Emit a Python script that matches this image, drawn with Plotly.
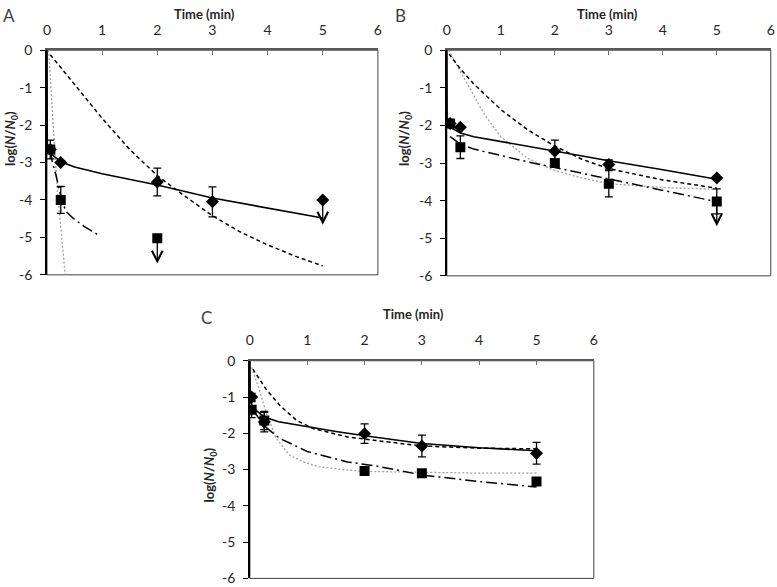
import plotly.graph_objects as go

W, H = 777, 587

# ---------------- data ----------------
x_ticks = [0, 1, 2, 3, 4, 5, 6]
x_tick_labels = ["0", "1", "2", "3", "4", "5", "6"]
y_ticks = [0, -1, -2, -3, -4, -5, -6]
y_tick_labels = ["0", "-1", "-2", "-3", "-4", "-5", "-6"]

# Panel A
A_dia_t = [0.06, 0.25, 2, 3, 5]
A_dia_y = [-2.65, -3.0, -3.52, -4.05, -4.0]
A_dia_e = [0.25, None, 0.37, 0.4, None]
A_sq_t = [0.06, 0.25, 2]
A_sq_y = [-2.65, -4.0, -5.02]
A_sq_e = [None, 0.36, None]
A_arrow_t = [5, 2]
A_arrow_from = [-4.0, -5.02]
A_arrow_to = [-4.66, -5.7]

A_solid_t = [0, 0.005, 0.06, 0.1, 0.25, 0.5, 1, 1.5, 2, 3, 4, 5]
A_solid_y = [0, -2.5, -2.68, -2.8, -2.98, -3.12, -3.3, -3.45, -3.6, -3.95, -4.22, -4.48]
A_dash_t = [0.06, 0.5, 1.0, 1.5, 2.0, 2.5, 3.0, 3.5, 4.0, 4.5, 5.0]
A_dash_y = [-0.12, -0.92, -1.82, -2.65, -3.35, -3.9, -4.42, -4.85, -5.2, -5.5, -5.76]
A_dot_t = [0.03, 0.06, 0.1, 0.15, 0.2, 0.25, 0.3, 0.33]
A_dot_y = [0, -0.8, -1.7, -2.9, -3.95, -4.75, -5.5, -6.0]
A_dd_t = [0.06, 0.1, 0.16, 0.25, 0.34, 0.5, 0.68, 0.85, 0.97]
A_dd_y = [-2.7, -3.0, -3.32, -3.9, -4.3, -4.52, -4.71, -4.86, -4.97]

# Panel B
B_dia_t = [0.06, 0.25, 2, 3, 5]
B_dia_y = [-1.95, -2.05, -2.69, -3.04, -3.4]
B_dia_e = [0.08, None, 0.3, 0.12, None]
B_sq_t = [0.06, 0.25, 2, 3, 5]
B_sq_y = [-1.95, -2.58, -3.0, -3.55, -4.02]
B_sq_e = [None, 0.3, 0.1, 0.35, 0.33]
B_arrow_t = [5]
B_arrow_from = [-4.02]
B_arrow_to = [-4.68]

B_solid_t = [0, 0.005, 0.06, 0.25, 0.5, 1, 1.5, 2, 3, 4, 5]
B_solid_y = [0, -1.9, -2.05, -2.2, -2.3, -2.43, -2.56, -2.68, -2.94, -3.18, -3.43]
B_dash_t = [0.04, 0.25, 0.5, 1, 1.5, 2, 2.5, 3, 4, 5]
B_dash_y = [-0.1, -0.5, -0.9, -1.58, -2.12, -2.55, -2.9, -3.15, -3.45, -3.67]
B_dot_t = [0.03, 0.2, 0.4, 0.7, 1.0, 1.5, 2.0, 2.5, 3.0, 4.0, 5.0]
B_dot_y = [0, -0.45, -0.95, -1.72, -2.3, -2.88, -3.2, -3.4, -3.55, -3.65, -3.7]
B_dd_t = [0.06, 0.25, 0.5, 1, 1.5, 2, 3, 4, 5]
B_dd_y = [-2.3, -2.5, -2.63, -2.8, -2.97, -3.12, -3.42, -3.72, -4.03]

# Panel C
C_dia_t = [0.03, 0.25, 2, 3, 5]
C_dia_y = [-1.0, -1.69, -2.01, -2.35, -2.55]
C_dia_e = [0.1, 0.27, 0.27, 0.3, 0.3]
C_sq_t = [0.03, 0.25, 2, 3, 5]
C_sq_y = [-1.35, -1.65, -3.04, -3.1, -3.33]
C_sq_e = [0.22, 0.25, None, None, None]

C_solid_t = [0, 0.005, 0.05, 0.25, 0.5, 1, 1.5, 2, 3, 4, 5]
C_solid_y = [0, -1.1, -1.3, -1.55, -1.68, -1.82, -1.95, -2.07, -2.28, -2.4, -2.48]
C_dash_t = [0.05, 0.28, 0.52, 0.81, 1.1, 1.7, 2.2, 3, 4, 5]
C_dash_y = [-0.23, -0.78, -1.23, -1.64, -1.87, -2.1, -2.2, -2.35, -2.41, -2.43]
C_dot_t = [0.03, 0.16, 0.28, 0.46, 0.69, 0.93, 1.2, 1.6, 2, 3, 4, 5]
C_dot_y = [-0.18, -0.78, -1.42, -2.14, -2.6, -2.79, -2.92, -3.0, -3.05, -3.08, -3.1, -3.1]
C_dd_t = [0.05, 0.25, 0.52, 1.0, 1.7, 2.2, 3, 4, 5]
C_dd_y = [-1.35, -1.8, -2.14, -2.5, -2.79, -2.9, -3.15, -3.33, -3.48]

# ---------------- build ----------------
FONT = "Lato"
fig = go.Figure()

panels = [
    ("x", "y", A_solid_t, A_solid_y, A_dash_t, A_dash_y, A_dot_t, A_dot_y, A_dd_t, A_dd_y,
     A_dia_t, A_dia_y, A_dia_e, A_sq_t, A_sq_y, A_sq_e, A_arrow_t, A_arrow_from, A_arrow_to),
    ("x2", "y2", B_solid_t, B_solid_y, B_dash_t, B_dash_y, B_dot_t, B_dot_y, B_dd_t, B_dd_y,
     B_dia_t, B_dia_y, B_dia_e, B_sq_t, B_sq_y, B_sq_e, B_arrow_t, B_arrow_from, B_arrow_to),
    ("x3", "y3", C_solid_t, C_solid_y, C_dash_t, C_dash_y, C_dot_t, C_dot_y, C_dd_t, C_dd_y,
     C_dia_t, C_dia_y, C_dia_e, C_sq_t, C_sq_y, C_sq_e, [], [], []),
]

annotations = []
for (xa, ya, st, sy, dt, dy, ot, oy, ddt, ddy, dit, diy, die, sqt, sqy, sqe, art, arf, arto) in panels:
    fig.add_trace(go.Scatter(x=ot, y=oy, xaxis=xa, yaxis=ya, mode="lines",
                             line=dict(color="#a0a0a0", width=1.3, dash="2px,2px"), showlegend=False))
    fig.add_trace(go.Scatter(x=dt, y=dy, xaxis=xa, yaxis=ya, mode="lines",
                             line=dict(color="black", width=1.5, dash="4px,3px"), showlegend=False))
    fig.add_trace(go.Scatter(x=ddt, y=ddy, xaxis=xa, yaxis=ya, mode="lines",
                             line=dict(color="black", width=1.5, dash="11px,4px,2px,4px"), showlegend=False))
    fig.add_trace(go.Scatter(x=st, y=sy, xaxis=xa, yaxis=ya, mode="lines",
                             line=dict(color="black", width=1.6), showlegend=False))
    fig.add_trace(go.Scatter(x=sqt, y=sqy, xaxis=xa, yaxis=ya, mode="markers",
                             marker=dict(symbol="square", size=10, color="black"),
                             error_y=dict(type="data", array=sqe, visible=True, color="black",
                                          thickness=1.3, width=4), showlegend=False))
    fig.add_trace(go.Scatter(x=dit, y=diy, xaxis=xa, yaxis=ya, mode="markers",
                             marker=dict(symbol="diamond", size=10, color="black"),
                             error_y=dict(type="data", array=die, visible=True, color="black",
                                          thickness=1.3, width=4), showlegend=False))
    for t, f, to in zip(art, arf, arto):
        annotations.append(dict(x=t, y=to, ax=t, ay=f, xref=xa, yref=ya, axref=xa, ayref=ya,
                                text="", showarrow=True, arrowhead=5, arrowsize=1.6,
                                arrowwidth=1.3, arrowcolor="black"))

# The photographed page is shown slightly reduced and padded; map reference
# pixel positions to figure pixel positions accordingly.
SX, OX = 0.99, 3.0
SY, OY = 0.9725, 7.75

def px_x(p):
    return ((p - OX) / SX) / W

def px_y(p):
    f = (p - OY) / SY
    return 1 - f / H

domains = {
    "1": ([px_x(46), px_x(377)], [px_y(274), px_y(49)]),
    "2": ([px_x(446), px_x(770)], [px_y(275), px_y(49)]),
    "3": ([px_x(249), px_x(593)], [px_y(578), px_y(360)]),
}

layout = dict(width=W, height=H, margin=dict(l=0, r=0, t=0, b=0),
              paper_bgcolor="white", plot_bgcolor="white", showlegend=False)
shapes = []
for k, (dx, dy) in domains.items():
    sfx = "" if k == "1" else k
    layout["xaxis" + sfx] = dict(domain=dx, anchor="y" + sfx, side="top", range=[0, 6],
                                 tickmode="array", tickvals=x_ticks, ticktext=x_tick_labels,
                                 ticks="inside", ticklen=5, tickcolor="#707070", tickwidth=1,
                                 showline=True, linecolor="#595959", linewidth=1.5,
                                 showgrid=False, zeroline=False, ticklabelstandoff=8,
                                 tickfont=dict(family=FONT, size=14, color="#262626"))
    layout["yaxis" + sfx] = dict(domain=dy, anchor="x" + sfx, range=[-6, 0],
                                 tickmode="array", tickvals=y_ticks, ticktext=y_tick_labels,
                                 ticks="outside", ticklen=5, tickcolor="black", tickwidth=1,
                                 showline=True, linecolor="black", linewidth=1.5,
                                 showgrid=False, zeroline=False, ticklabelstandoff=5,
                                 tickfont=dict(family=FONT, size=14, color="#262626"))
    shapes.append(dict(type="rect", xref="x" + sfx + " domain", yref="y" + sfx + " domain",
                       x0=0, x1=1, y0=0, y1=1, line=dict(color="#404040", width=1),
                       layer="below"))

ytitle = "<b>log(<i>N</i>/<i>N</i><sub>0</sub>)</b>"
for (lx, ly, tx, ty, letter, lpx, lpy) in [
    (204, 13, 10, 137, "A", 8, 14),
    (607, 13, 404, 137, "B", 400, 14),
    (413, 313, 209, 474, "C", 206, 317),
]:
    annotations.append(dict(text="<b>Time (min)</b>", x=px_x(lx), y=px_y(ly), xref="paper", yref="paper",
                            xanchor="center", yanchor="middle",
                            showarrow=False, font=dict(family=FONT, size=13, color="#262626")))
    annotations.append(dict(text=ytitle, x=px_x(tx), y=px_y(ty), xref="paper", yref="paper",
                            xanchor="center", yanchor="middle",
                            showarrow=False, textangle=-90,
                            font=dict(family=FONT, size=13, color="#262626")))
    annotations.append(dict(text=letter, x=px_x(lpx), y=px_y(lpy), xref="paper", yref="paper",
                            xanchor="center", yanchor="middle",
                            showarrow=False, font=dict(family=FONT, size=17, color="#404040")))

layout["annotations"] = annotations
layout["shapes"] = shapes
fig.update_layout(**layout)

post = (
    "document.documentElement.style.margin='0';"
    "document.body.style.margin='0';"
    "document.body.style.overflow='hidden';"
)
fig.write_html("out.html", config={"displayModeBar": False}, post_script=post)
